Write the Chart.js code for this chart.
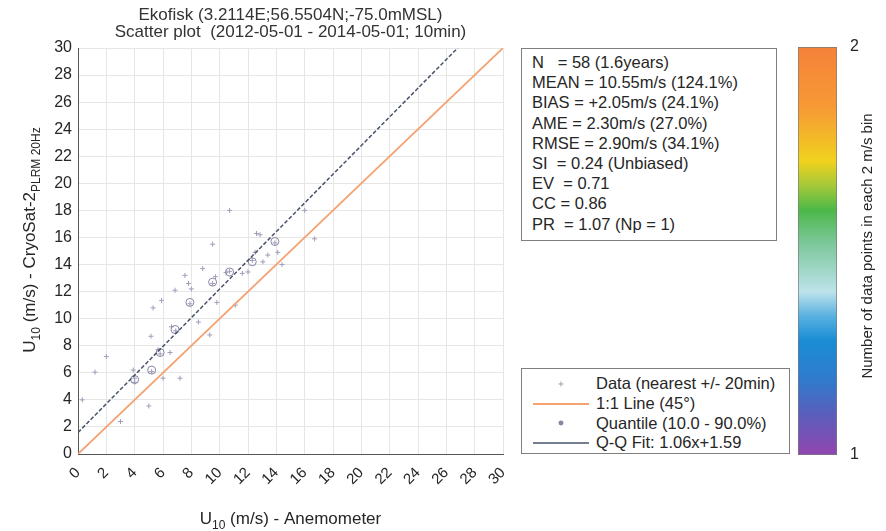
<!DOCTYPE html>
<html>
<head>
<meta charset="utf-8">
<title>Ekofisk scatter</title>
<script src="https://cdn.jsdelivr.net/npm/chart.js@4.4.1/dist/chart.umd.min.js"></script>
<style>
  body { margin: 0; background: #fff; }
  #wrap { position: relative; width: 886px; height: 531px; overflow: hidden;
          font-family: "Liberation Sans", Arial, Helvetica, sans-serif; color: #262626; }
  canvas { position: absolute; }
  .box { position: absolute; box-sizing: border-box; border: 1px solid #7f7f7f; background: #fff; font-size: 16.5px; }
  #stats { left: 521px; top: 48px; width: 256px; height: 193px; padding: 3px 0 0 10px; line-height: 20.2px; white-space: pre; }
  #legend { left: 521px; top: 368px; width: 269px; height: 86px; padding-top: 5px; }
  #legend .row { display: flex; align-items: center; height: 19.7px; white-space: pre; }
  #legend svg { flex: none; width: 74px; height: 19.7px; }
</style>
</head>
<body>
<div id="wrap">
  <canvas id="main" width="886" height="531" style="left:0;top:0"></canvas>
  <canvas id="cbar" width="88" height="440" style="left:798px;top:30px"></canvas>
  <div id="stats" class="box"></div>
  <div id="legend" class="box"></div>
</div>
<script>
// Datos (Ekofisk vs CryoSat-2)
const TITLE = ["Ekofisk (3.2114E;56.5504N;-75.0mMSL)", "Scatter plot  (2012-05-01 - 2014-05-01; 10min)"];
const axisTicks = [0, 2, 4, 6, 8, 10, 12, 14, 16, 18, 20, 22, 24, 26, 28, 30];

// nube de puntos (anemometro, altimetro)
const dataX = [0.3, 1.2, 2.0, 3.0, 3.9, 4.0, 4.0, 5.0, 5.15, 5.2, 5.3, 5.65, 5.8, 5.9, 6.0, 6.5, 6.6, 6.85, 6.9, 7.2,
               7.55, 7.8, 7.9, 8.0, 8.5, 8.8, 9.3, 9.5, 9.5, 9.7, 9.8, 10.45, 10.7, 10.7, 11.1, 11.6, 12.0, 12.3,
               12.5, 12.6, 12.85, 13.05, 13.4, 13.9, 14.1, 14.4, 16.0, 16.7];
const dataY = [4.0, 6.05, 7.2, 2.4, 6.2, 5.3, 5.6, 3.55, 8.7, 6.1, 10.8, 7.7, 7.4, 11.35, 5.6, 7.5, 9.4, 12.1, 9.1, 5.6,
               13.2, 12.6, 11.1, 12.2, 9.75, 13.7, 8.8, 15.5, 12.6, 13.1, 11.2, 13.4, 18.0, 13.5, 11.0, 13.35, 13.45, 14.3,
               14.9, 16.3, 16.2, 14.2, 14.7, 15.6, 14.9, 14.0, 18.0, 15.9];

// cuantiles 10..90 %
const qX = [4.0, 5.2, 5.8, 6.85, 7.9, 9.5, 10.7, 12.3, 13.9];
const qY = [5.5, 6.2, 7.5, 9.2, 11.2, 12.7, 13.45, 14.2, 15.7];

// lineas 1:1 y ajuste Q-Q (1.06x+1.59)
const oneX = [0, 30], oneY = [0, 30];
const fitX = [0, 26.8], fitY = [1.59, 30];

const LEGEND = ["Data (nearest +/- 20min)", "1:1 Line (45\u00B0)", "Quantile (10.0 - 90.0%)", "Q-Q Fit: 1.06x+1.59"];
const STATS = [
  "N   = 58 (1.6years)",
  "MEAN = 10.55m/s (124.1%)",
  "BIAS = +2.05m/s (24.1%)",
  "AME = 2.30m/s (27.0%)",
  "RMSE = 2.90m/s (34.1%)",
  "SI  = 0.24 (Unbiased)",
  "EV  = 0.71",
  "CC = 0.86",
  "PR  = 1.07 (Np = 1)",
];
const X_LABEL = [["U", 0], ["10", 1], [" (m/s) - Anemometer", 0]];
const Y_LABEL = [["U", 0], ["10", 1], [" (m/s) - CryoSat-2", 0], ["PLRM 20Hz", 1]];
const CB_TITLE = "Number of data points in each 2 m/s bin";
const cbRange = [1, 2], cbTicks = [1, 2];

const FONT = '"Liberation Sans", Arial, Helvetica, sans-serif';
const INK = "#262626";
const C = { data: "#a19eb9", one: "#f5a272", quant: "#8a85a5", fit: "#46536a", grid: "#e6e6e6", axis: "#555" };
// paleta de la barra de color (de 1 a 2)
const CB_STOPS = [
  [0.00, "#9146b0"], [0.10, "#5a5ebb"], [0.18, "#3279cc"], [0.28, "#1a8dd5"], [0.34, "#58b0e0"], [0.40, "#bde3ea"],
  [0.52, "#7cc79a"], [0.60, "#4cb848"], [0.66, "#a4c83a"], [0.72, "#f0d21e"], [0.85, "#f79a35"], [1.00, "#f5823a"],
];

const xy = (xs, ys) => xs.map((x, i) => ({ x, y: ys[i] }));

// texto con subindices (estilo MATLAB U_{10})
function drawSub(c, parts, cx, cy) {
  const fm = "17px " + FONT, fs = "12px " + FONT;
  let w = 0;
  parts.forEach(([t, sub]) => { c.font = sub ? fs : fm; w += c.measureText(t).width; });
  let x = cx - w / 2;
  c.textAlign = "left";
  c.textBaseline = "middle";
  parts.forEach(([t, sub]) => {
    c.font = sub ? fs : fm;
    c.fillText(t, x, cy + (sub ? 7 : 0));
    x += c.measureText(t).width;
  });
}

const labels = {
  id: "labels",
  afterDraw(chart) {
    const c = chart.ctx, a = chart.chartArea;
    const mx = (a.left + a.right) / 2;
    c.save();
    c.fillStyle = "#333";
    c.font = "17px " + FONT;
    c.textAlign = "center";
    c.textBaseline = "middle";
    c.fillText(TITLE[0], mx, 15);
    c.fillText(TITLE[1], mx, 32);
    c.fillStyle = INK;
    drawSub(c, X_LABEL, mx, 519);
    c.translate(30, 240);
    c.rotate(-Math.PI / 2);
    drawSub(c, Y_LABEL, 0, 0);
    c.restore();
  },
};

const axisOpts = (extra) => Object.assign({
  type: "linear", min: 0, max: 30,
  afterBuildTicks: (s) => { s.ticks = axisTicks.map((v) => ({ value: v })); },
  grid: { color: C.grid, drawTicks: false },
  border: { color: C.axis, width: 1 },
}, extra);

new Chart(document.getElementById("main"), {
  type: "scatter",
  data: {
    datasets: [
      { label: LEGEND[0], data: xy(dataX, dataY), pointStyle: "cross", pointRadius: 2.5, borderColor: C.data, borderWidth: 1, order: 4 },
      { label: LEGEND[1], data: xy(oneX, oneY), showLine: true, borderColor: C.one, borderWidth: 1.8, pointRadius: 0, order: 3 },
      { label: LEGEND[2], data: xy(qX, qY), pointStyle: "circle", pointRadius: 4, borderColor: C.quant,
        backgroundColor: "rgba(0,0,0,0)", borderWidth: 1, order: 2 },
      { label: LEGEND[3], data: xy(fitX, fitY), showLine: true, borderColor: C.fit, borderWidth: 1.5,
        borderDash: [4, 2], pointRadius: 0, order: 1 },
    ],
  },
  options: {
    responsive: false,
    animation: false,
    events: [],
    layout: { padding: { left: 0, top: 48, right: 383, bottom: 0 } },
    plugins: { legend: { display: false }, tooltip: { enabled: false } },
    scales: {
      x: axisOpts({
        afterFit: (s) => { s.height = 77; },
        ticks: { color: INK, font: { family: FONT, size: 15 }, minRotation: 45, maxRotation: 45, padding: 10, autoSkip: false },
      }),
      y: axisOpts({
        afterFit: (s) => { s.width = 78; },
        ticks: { color: INK, font: { family: FONT, size: 16 }, padding: 6, autoSkip: false },
      }),
    },
  },
  plugins: [labels],
});

// --- barra de color ---
function cbGradient(chart) {
  const a = chart.chartArea;
  if (!a) return CB_STOPS[0][1];
  const g = chart.ctx.createLinearGradient(0, a.bottom, 0, a.top);
  CB_STOPS.forEach(([p, col]) => g.addColorStop(p, col));
  return g;
}

const cbLabel = {
  id: "cbLabel",
  afterDraw(chart) {
    const c = chart.ctx;
    c.save();
    c.translate(70, 216);
    c.rotate(-Math.PI / 2);
    c.font = "15px " + FONT;
    c.fillStyle = INK;
    c.textAlign = "center";
    c.textBaseline = "middle";
    c.fillText(CB_TITLE, 0, 0);
    c.restore();
  },
};

new Chart(document.getElementById("cbar"), {
  type: "bar",
  data: {
    labels: [""],
    datasets: [{
      data: [cbRange],
      backgroundColor: (ctx) => cbGradient(ctx.chart),
      borderColor: "#7a7a7a",
      borderWidth: 1,
      borderSkipped: false,
      barPercentage: 1,
      categoryPercentage: 1,
    }],
  },
  options: {
    responsive: false,
    animation: false,
    events: [],
    layout: { padding: { left: 0, top: 17, right: 0, bottom: 15 } },
    plugins: { legend: { display: false }, tooltip: { enabled: false } },
    scales: {
      x: { display: false },
      y: {
        position: "right", min: cbRange[0], max: cbRange[1],
        afterBuildTicks: (s) => { s.ticks = cbTicks.map((v) => ({ value: v })); },
        afterFit: (s) => { s.width = 49; },
        grid: { display: false },
        border: { display: false },
        ticks: { color: INK, font: { family: FONT, size: 16 }, padding: 5 },
      },
    },
  },
  plugins: [cbLabel],
});

// --- caja de estadisticos y leyenda ---
document.getElementById("stats").textContent = STATS.join("\n");

const SYMBOLS = [
  `<line x1="36.5" y1="10" x2="41.5" y2="10" stroke="${C.data}"/><line x1="39" y1="7.5" x2="39" y2="12.5" stroke="${C.data}"/>`,
  `<line x1="11" y1="10" x2="67" y2="10" stroke="${C.one}" stroke-width="2"/>`,
  `<circle cx="39" cy="10" r="2.5" fill="${C.quant}"/>`,
  `<line x1="11" y1="10" x2="67" y2="10" stroke="${C.fit}" stroke-width="1.5"/>`,
];
document.getElementById("legend").innerHTML = LEGEND.map((t, i) =>
  `<div class="row"><svg viewBox="0 0 74 19.7">${SYMBOLS[i]}</svg><span></span></div>`).join("");
document.querySelectorAll("#legend .row span").forEach((el, i) => { el.textContent = LEGEND[i]; });
</script>
</body>
</html>
